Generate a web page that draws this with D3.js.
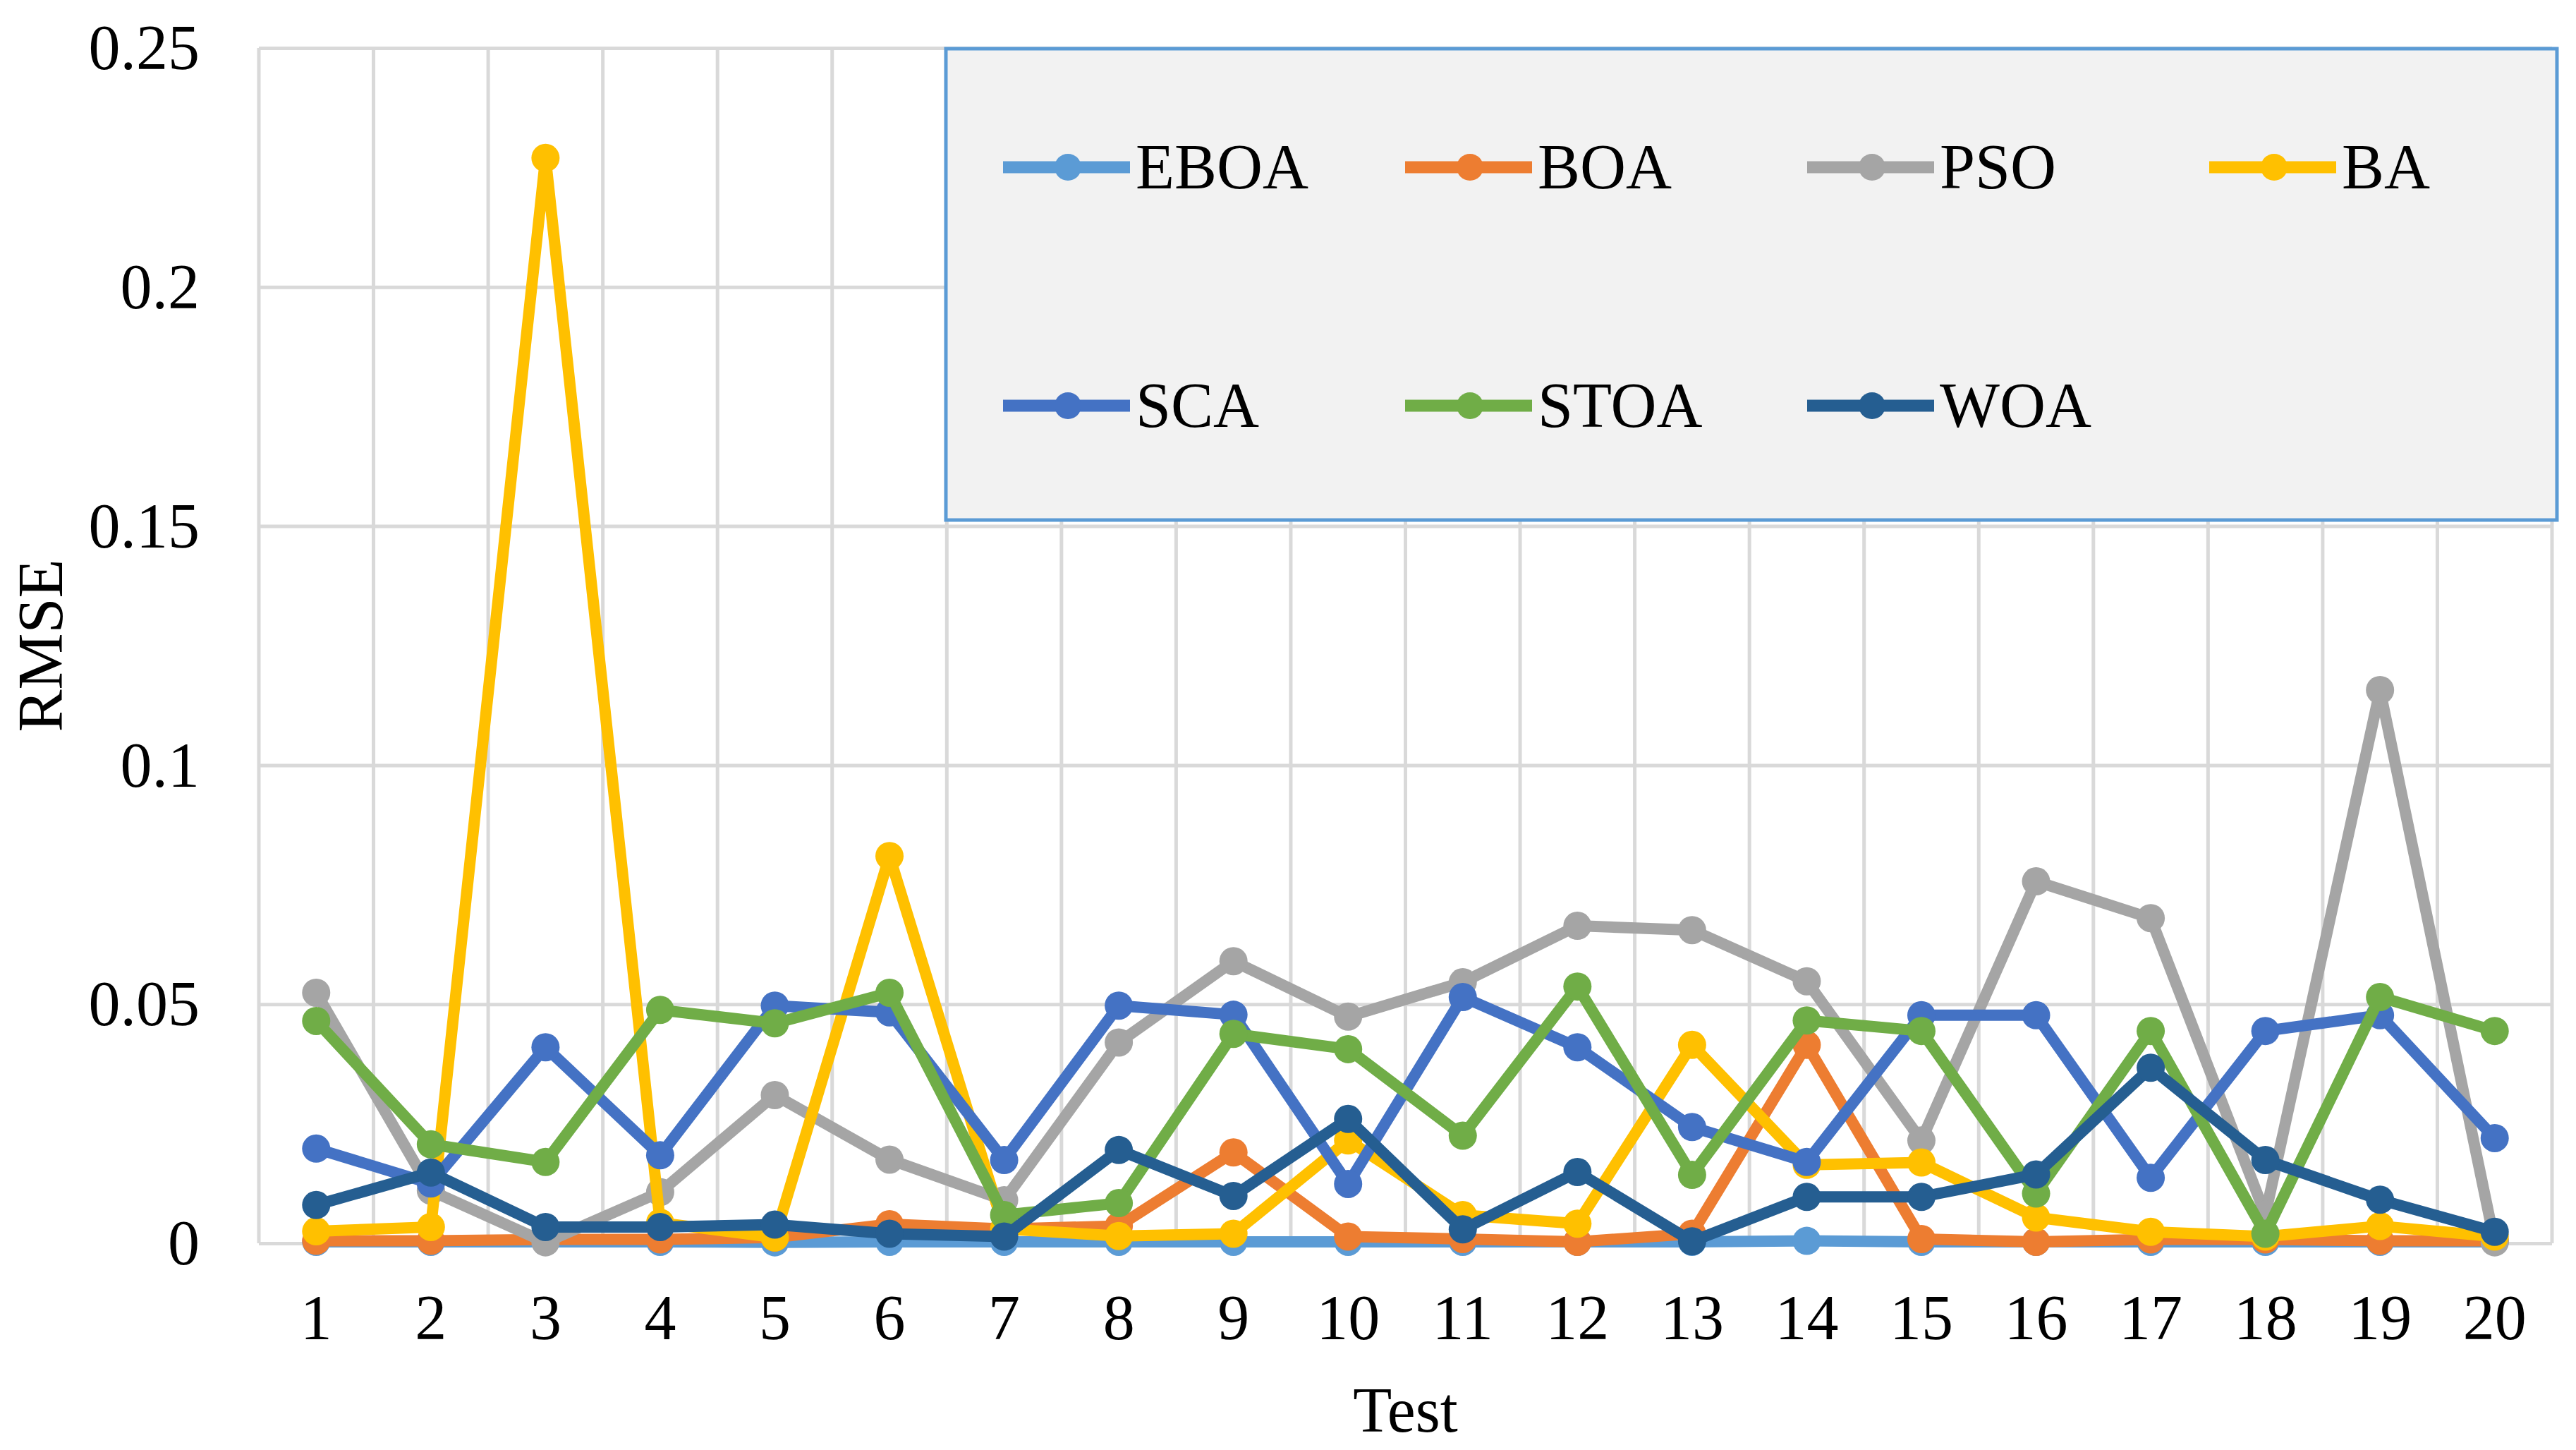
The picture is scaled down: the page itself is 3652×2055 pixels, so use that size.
<!DOCTYPE html>
<html>
<head>
<meta charset="utf-8">
<script src="https://cdn.jsdelivr.net/npm/d3@7"></script>
<style>
  html, body { margin: 0; padding: 0; background: #fff; }
  svg { display: block; }
  text { font-family: "Liberation Serif", "Times New Roman", serif; fill: #000; }
</style>
</head>
<body>
<div id="chart"></div>
<script>
// ── data ──
var tests = ["1","2","3","4","5","6","7","8","9","10","11","12","13","14","15","16","17","18","19","20"];
var yTicks = [0, 0.05, 0.1, 0.15, 0.2, 0.25];
var seriesNames = ["EBOA", "BOA", "PSO", "BA", "SCA", "STOA", "WOA"];
var seriesColors = ["#5b9bd5", "#ed7d31", "#a5a5a5", "#ffc000", "#4472c4", "#70ad47", "#255e91"];

var EBOA = [0.0003, 0.0003, 0.0003, 0.0003, 0.0002, 0.0003, 0.0003, 0.0003, 0.0003, 0.0003,
            0.0003, 0.0003, 0.0003, 0.0005, 0.0003, 0.0003, 0.0003, 0.0003, 0.0003, 0.0003];
var BOA  = [0.0005, 0.0005, 0.0008, 0.0008, 0.0012, 0.004, 0.003, 0.0036, 0.019, 0.0014,
            0.0009, 0.0003, 0.002, 0.0415, 0.0009, 0.0003, 0.0008, 0.0008, 0.0005, 0.0005];
var PSO  = [0.0524, 0.011, 0.0002, 0.0107, 0.031, 0.0175, 0.009, 0.042, 0.059, 0.0474,
            0.0546, 0.0664, 0.0655, 0.0548, 0.0215, 0.0757, 0.068, 0.006, 0.1157, 0.0002];
var BA   = [0.0025, 0.0034, 0.227, 0.0043, 0.0012, 0.081, 0.003, 0.0015, 0.002, 0.0215,
            0.0059, 0.0041, 0.0415, 0.0164, 0.0169, 0.0054, 0.0024, 0.0014, 0.0036, 0.0014];
var SCA  = [0.0198, 0.0125, 0.041, 0.0184, 0.0497, 0.0483, 0.0174, 0.0497, 0.0478, 0.0124,
            0.0515, 0.041, 0.0243, 0.017, 0.0477, 0.0477, 0.0137, 0.0444, 0.0477, 0.022];
var STOA = [0.0465, 0.0207, 0.017, 0.0488, 0.046, 0.0524, 0.0059, 0.0084, 0.0438, 0.0406,
            0.0225, 0.0537, 0.0143, 0.0466, 0.0444, 0.0104, 0.0444, 0.002, 0.0515, 0.0444];
var WOA  = [0.008, 0.0148, 0.0034, 0.0034, 0.0039, 0.002, 0.0014, 0.0195, 0.0099, 0.026,
            0.0029, 0.0149, 0.0004, 0.0097, 0.0097, 0.0144, 0.0367, 0.0174, 0.0091, 0.0024];

var seriesValues = [EBOA, BOA, PSO, BA, SCA, STOA, WOA];

// ── layout ──
var W = 3652, H = 2055;
var plot = { left: 367, right: 3618, top: 68, bottom: 1762 };
var fontSize = 90;
var lineW = 16, markerR = 20;

var svg = d3.select("#chart").append("svg")
  .attr("width", W)
  .attr("height", H);

svg.append("rect").attr("width", W).attr("height", H).attr("fill", "#fff");

var x = d3.scaleBand().domain(tests).range([plot.left, plot.right]).padding(0);
var y = d3.scaleLinear().domain([0, 0.25]).range([plot.bottom, plot.top]);

// horizontal gridlines + y labels
var yAxis = svg.append("g")
  .attr("transform", "translate(" + plot.left + ",0)")
  .call(d3.axisLeft(y)
    .tickValues(yTicks)
    .tickSize(-(plot.right - plot.left))
    .tickPadding(84)
    .tickFormat(d3.format("~g")));
yAxis.select(".domain").remove();
yAxis.selectAll(".tick line").attr("stroke", "#d9d9d9").attr("stroke-width", 5);
yAxis.selectAll(".tick text")
  .attr("font-size", fontSize)
  .attr("font-family", "Liberation Serif, serif")
  .attr("fill", "#000")
  .attr("dy", "0.33em");

// vertical gridlines at category boundaries
var bounds = d3.range(tests.length + 1).map(function(i) { return x.range()[0] + i * x.step(); });
svg.append("g").selectAll("line")
  .data(bounds)
  .enter().append("line")
    .attr("x1", function(d) { return d; })
    .attr("x2", function(d) { return d; })
    .attr("y1", plot.top)
    .attr("y2", plot.bottom)
    .attr("stroke", "#d9d9d9")
    .attr("stroke-width", 5);

// x labels
var xAxis = svg.append("g")
  .attr("transform", "translate(0," + plot.bottom + ")")
  .call(d3.axisBottom(x).tickSize(0).tickPadding(0));
xAxis.select(".domain").remove();
xAxis.selectAll(".tick text")
  .attr("font-size", fontSize)
  .attr("font-family", "Liberation Serif, serif")
  .attr("fill", "#000")
  .attr("y", 136)
  .attr("dy", 0);

// axis titles
svg.append("text")
  .attr("x", (plot.left + plot.right) / 2)
  .attr("y", 2029)
  .attr("text-anchor", "middle")
  .attr("font-size", fontSize)
  .text("Test");

svg.append("text")
  .attr("transform", "translate(88," + ((plot.top + plot.bottom) / 2) + ") rotate(-90)")
  .attr("text-anchor", "middle")
  .attr("font-size", fontSize)
  .text("RMSE");

// series
var line = d3.line()
  .x(function(d, i) { return x(tests[i]) + x.bandwidth() / 2; })
  .y(function(d) { return y(d); });

seriesValues.forEach(function(vals, k) {
  var g = svg.append("g").attr("class", "series");
  g.append("path")
    .attr("d", line(vals))
    .attr("fill", "none")
    .attr("stroke", seriesColors[k])
    .attr("stroke-width", lineW)
    .attr("stroke-linejoin", "round")
    .attr("stroke-linecap", "round");
  g.selectAll("circle")
    .data(vals)
    .enter().append("circle")
      .attr("cx", function(d, i) { return x(tests[i]) + x.bandwidth() / 2; })
      .attr("cy", function(d) { return y(d); })
      .attr("r", markerR)
      .attr("fill", seriesColors[k]);
});

// legend
var legend = { x: 1341, y: 69, w: 3625 - 1341, h: 737 - 69 };
svg.append("rect")
  .attr("x", legend.x)
  .attr("y", legend.y)
  .attr("width", legend.w)
  .attr("height", legend.h)
  .attr("fill", "#f2f2f2")
  .attr("stroke", "#5b9bd5")
  .attr("stroke-width", 5);

var legendRows = [237, 575];
var legendCol0 = 1422, legendColStep = 570;

var items = svg.append("g").selectAll("g")
  .data(seriesNames)
  .enter().append("g")
    .attr("transform", function(d, i) {
      var col = i % 4, row = Math.floor(i / 4);
      return "translate(" + (legendCol0 + col * legendColStep) + "," + legendRows[row] + ")";
    });

items.append("line")
  .attr("x1", 0).attr("x2", 180)
  .attr("y1", 0).attr("y2", 0)
  .attr("stroke", function(d, i) { return seriesColors[i]; })
  .attr("stroke-width", 17);

items.append("circle")
  .attr("cx", 92).attr("cy", 0)
  .attr("r", 19)
  .attr("fill", function(d, i) { return seriesColors[i]; });

items.append("text")
  .attr("x", 188)
  .attr("y", 30)
  .attr("font-size", fontSize)
  .text(function(d) { return d; });
</script>
</body>
</html>
